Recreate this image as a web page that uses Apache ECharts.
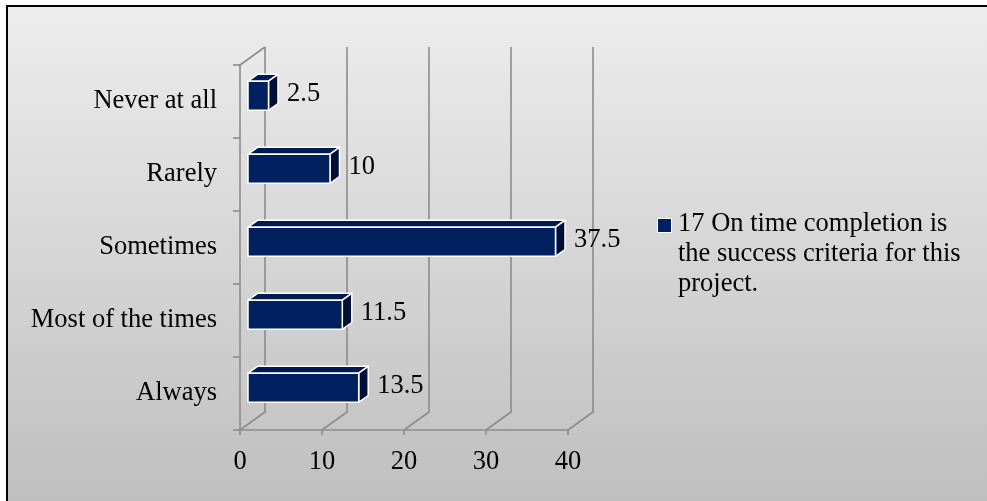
<!DOCTYPE html>
<html>
<head>
<meta charset="utf-8">
<script src="https://cdn.jsdelivr.net/npm/echarts@6/dist/echarts.min.js"></script>
<style>
  html, body { margin: 0; padding: 0; background: #fff; }
  #panel {
    position: absolute; left: 6px; top: 5px; width: 981px; height: 496px;
    box-sizing: border-box;
    border-left: 2px solid #000; border-top: 2px solid #000;
    background: linear-gradient(to bottom, #ededed, #bfbfbf);
  }
  #chart { position: absolute; left: 0; top: 0; width: 987px; height: 501px; }
</style>
</head>
<body>
<div id="panel"></div>
<div id="chart"></div>
<script>
// Survey answers, listed bottom to top along the category axis
const categories = ['Always', 'Most of the times', 'Sometimes', 'Rarely', 'Never at all'];
const values = [13.5, 11.5, 37.5, 10, 2.5];
const valueTicks = [0, 10, 20, 30, 40];
const seriesName = '17 On time completion is the success criteria for this project.';

const FONT = 'Liberation Serif';
const FONT_SIZE = 26.5;
// Oblique projection of the depth axis (pixels for full depth)
const DEPTH = [25, -18];
const BAR_FRONT = 0.32, BAR_BACK = 0.70, BAR_THICK = 0.4;
const GRID_COLOR = '#8c8c8c';
const BAR_COLOR = '#002060';

const chart = echarts.init(document.getElementById('chart'), null, { renderer: 'canvas' });

function shift(p, d) { return [p[0] + DEPTH[0] * d, p[1] + DEPTH[1] * d]; }

// Back wall, floor and side wall lines of the 3D box
function renderFrame(params, api) {
  const v = api.value(0);
  const band = api.size([0, 1])[1];
  const bottom = api.coord([v, 0])[1] + band / 2;
  const top = api.coord([v, categories.length - 1])[1] - band / 2;
  const x = api.coord([v, 0])[0];
  const children = [{
    type: 'polyline',
    shape: { points: [[x, bottom], shift([x, bottom], 1), shift([x, top], 1)] },
    style: { stroke: GRID_COLOR, lineWidth: 1.6, fill: null }
  }];
  if (params.dataIndex === 0) {
    children.push({
      type: 'line',
      shape: { x1: x, y1: top, x2: x + DEPTH[0], y2: top + DEPTH[1] },
      style: { stroke: GRID_COLOR, lineWidth: 1.6 }
    });
  }
  return { type: 'group', children };
}

// Each bar is an extruded box: front, top and right faces, plus its value label
function renderBar(params, api) {
  const val = api.value(0);
  const idx = api.value(1);
  const band = api.size([0, 1])[1];
  const h = band * BAR_THICK;
  const p0 = api.coord([0, idx]);
  const p1 = api.coord([val, idx]);
  const fl = shift([p0[0], p0[1] - h / 2], BAR_FRONT);
  const fr = shift([p1[0], p1[1] - h / 2], BAR_FRONT);
  const flb = shift([p0[0], p0[1] + h / 2], BAR_FRONT);
  const frb = shift([p1[0], p1[1] + h / 2], BAR_FRONT);
  const bl = shift([p0[0], p0[1] - h / 2], BAR_BACK);
  const br = shift([p1[0], p1[1] - h / 2], BAR_BACK);
  const brb = shift([p1[0], p1[1] + h / 2], BAR_BACK);
  const edge = { stroke: '#ffffff', lineWidth: 1.5, lineJoin: 'round' };
  return {
    type: 'group',
    children: [
      { type: 'polygon', shape: { points: [fl, fr, br, bl] },
        style: Object.assign({ fill: '#001a52' }, edge) },
      { type: 'polygon', shape: { points: [fr, frb, brb, br] },
        style: Object.assign({ fill: '#000f38' }, edge) },
      { type: 'polygon', shape: { points: [fl, fr, frb, flb] },
        style: Object.assign({ fill: BAR_COLOR }, edge) },
      { type: 'text',
        style: {
          text: String(val), x: br[0] + 9, y: (fr[1] + frb[1]) / 2 - 2,
          font: FONT_SIZE + 'px "' + FONT + '"', fill: '#000',
          align: 'left', verticalAlign: 'middle'
        } }
    ]
  };
}

chart.setOption({
  backgroundColor: 'transparent',
  animation: false,
  grid: { left: 240, right: 419, top: 65, bottom: 71, containLabel: false },
  xAxis: {
    type: 'value', min: 0, max: 40, interval: 10,
    axisLine: { show: true, lineStyle: { color: GRID_COLOR, width: 1.6 } },
    axisTick: { show: true, length: 5, lineStyle: { color: GRID_COLOR, width: 1.6 } },
    splitLine: { show: false },
    axisLabel: { color: '#000', fontFamily: FONT, fontSize: FONT_SIZE, margin: 19 }
  },
  yAxis: {
    type: 'category', data: categories,
    axisLine: { show: true, lineStyle: { color: GRID_COLOR, width: 1.6 } },
    axisTick: { show: true, length: 7, lineStyle: { color: GRID_COLOR, width: 1.6 } },
    splitLine: { show: false },
    axisLabel: { color: '#000', fontFamily: FONT, fontSize: FONT_SIZE, margin: 23 }
  },
  // Legend: marker aligned with the first line of the wrapped series name
  graphic: [{
    type: 'group', left: 657, top: 209,
    children: [
      { type: 'rect', shape: { x: 0.5, y: 9.5, width: 14, height: 14 },
        style: { fill: BAR_COLOR, stroke: '#ffffff', lineWidth: 1 } },
      { type: 'text', x: 21, y: 0,
        style: {
          text: seriesName, width: 296, overflow: 'break', lineHeight: 30,
          font: FONT_SIZE + 'px "' + FONT + '"', fill: '#000',
          align: 'left', verticalAlign: 'top'
        } }
    ]
  }],
  series: [
    {
      type: 'custom', name: 'frame', z: 1, silent: true,
      renderItem: renderFrame,
      encode: { x: 0, y: 1 },
      data: valueTicks.map(v => [v, 0])
    },
    {
      type: 'custom', name: seriesName, z: 3,
      renderItem: renderBar,
      encode: { x: 0, y: 1 },
      data: values.map((v, i) => [v, i])
    }
  ]
});
</script>
</body>
</html>
